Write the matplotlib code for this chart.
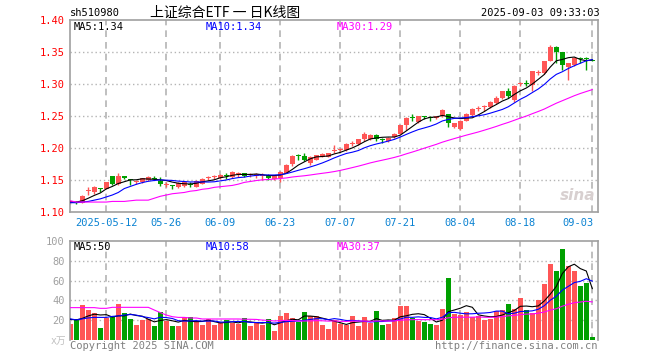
import matplotlib
matplotlib.use("Agg")
import matplotlib.pyplot as plt
import numpy as np
import pandas as pd

# -----------------------------
# Data (sh510980)
# -----------------------------
opens = [1.115, 1.116, 1.115, 1.133, 1.131, 1.137, 1.137, 1.156, 1.144, 1.156,
         1.151, 1.147, 1.148, 1.150, 1.153, 1.149, 1.142, 1.142, 1.140, 1.141,
         1.144, 1.140, 1.145, 1.153, 1.155, 1.153, 1.158, 1.155, 1.160, 1.161,
         1.158, 1.157, 1.157, 1.159, 1.152, 1.153, 1.162, 1.175, 1.189, 1.188,
         1.177, 1.182, 1.187, 1.187, 1.196, 1.198, 1.197, 1.207, 1.207, 1.214,
         1.215, 1.221, 1.214, 1.212, 1.217, 1.223, 1.236, 1.248, 1.241, 1.250,
         1.249, 1.248, 1.251, 1.253, 1.234, 1.230, 1.243, 1.252, 1.262, 1.264,
         1.265, 1.271, 1.278, 1.289, 1.275, 1.300, 1.302, 1.299, 1.318, 1.317,
         1.337, 1.359, 1.350, 1.327, 1.330, 1.341, 1.341, 1.338]
highs = [1.119, 1.118, 1.127, 1.139, 1.141, 1.138, 1.148, 1.157, 1.161, 1.157,
         1.152, 1.150, 1.154, 1.157, 1.156, 1.155, 1.147, 1.143, 1.147, 1.149,
         1.147, 1.150, 1.153, 1.156, 1.158, 1.160, 1.161, 1.164, 1.163, 1.162,
         1.161, 1.162, 1.161, 1.160, 1.157, 1.165, 1.175, 1.189, 1.191, 1.193,
         1.188, 1.190, 1.192, 1.193, 1.205, 1.201, 1.208, 1.211, 1.215, 1.226,
         1.222, 1.222, 1.216, 1.217, 1.224, 1.237, 1.249, 1.253, 1.251, 1.251,
         1.250, 1.251, 1.261, 1.254, 1.240, 1.244, 1.255, 1.263, 1.266, 1.267,
         1.274, 1.281, 1.290, 1.295, 1.299, 1.304, 1.307, 1.321, 1.323, 1.337,
         1.361, 1.360, 1.351, 1.334, 1.342, 1.342, 1.343, 1.339]
lows = [1.113, 1.113, 1.114, 1.127, 1.129, 1.132, 1.136, 1.143, 1.143, 1.152,
        1.143, 1.145, 1.146, 1.149, 1.151, 1.141, 1.140, 1.136, 1.138, 1.139,
        1.140, 1.139, 1.144, 1.150, 1.152, 1.152, 1.152, 1.154, 1.155, 1.155,
        1.155, 1.154, 1.151, 1.151, 1.151, 1.148, 1.161, 1.173, 1.182, 1.180,
        1.174, 1.181, 1.186, 1.186, 1.193, 1.196, 1.196, 1.203, 1.205, 1.212,
        1.213, 1.212, 1.209, 1.210, 1.216, 1.222, 1.229, 1.243, 1.239, 1.246,
        1.242, 1.246, 1.249, 1.234, 1.232, 1.228, 1.242, 1.251, 1.258, 1.258,
        1.263, 1.270, 1.277, 1.279, 1.273, 1.297, 1.297, 1.289, 1.314, 1.316,
        1.336, 1.333, 1.323, 1.306, 1.329, 1.333, 1.323, 1.336]
closes = [1.117, 1.115, 1.126, 1.134, 1.140, 1.136, 1.147, 1.145, 1.157, 1.154,
          1.150, 1.148, 1.153, 1.155, 1.152, 1.145, 1.143, 1.141, 1.146, 1.148,
          1.143, 1.149, 1.152, 1.154, 1.156, 1.159, 1.157, 1.163, 1.161, 1.156,
          1.159, 1.160, 1.158, 1.154, 1.156, 1.163, 1.174, 1.188, 1.188, 1.181,
          1.187, 1.189, 1.191, 1.192, 1.197, 1.199, 1.207, 1.208, 1.214, 1.223,
          1.221, 1.215, 1.213, 1.216, 1.223, 1.236, 1.248, 1.247, 1.250, 1.249,
          1.248, 1.250, 1.260, 1.240, 1.239, 1.243, 1.254, 1.262, 1.263, 1.265,
          1.273, 1.279, 1.289, 1.282, 1.298, 1.301, 1.301, 1.320, 1.319, 1.336,
          1.359, 1.350, 1.330, 1.333, 1.341, 1.340, 1.340, 1.337]
volumes = [16.4, 21.0, 35.5, 30.8, 27.4, 12.4, 22.7, 23.7, 36.5, 27.4,
           21.4, 15.4, 20.4, 21.0, 14.4, 28.4, 19.7, 14.4, 14.4, 23.4,
           23.4, 18.0, 15.4, 21.4, 15.4, 17.0, 20.7, 17.7, 16.7, 22.4,
           14.7, 17.0, 15.4, 21.4, 9.4, 24.7, 27.4, 22.7, 18.7, 28.4,
           24.4, 24.4, 15.4, 11.4, 20.4, 16.7, 15.7, 24.4, 14.4, 23.4,
           17.4, 29.4, 15.4, 16.4, 22.4, 34.4, 34.4, 22.7, 19.4, 18.0,
           16.4, 15.4, 31.4, 62.5, 26.4, 25.4, 28.1, 23.4, 24.7, 20.4,
           21.7, 29.4, 30.8, 36.5, 31.4, 42.5, 30.8, 27.4, 40.5, 56.5,
           76.6, 69.6, 91.6, 74.6, 69.6, 54.5, 57.5, 3.3]

# MA values at the start depend on days before the window
ma5_head = [1.116, 1.116, 1.118, 1.122]
ma10_head = [1.115, 1.115, 1.116, 1.117, 1.119, 1.121, 1.124, 1.127, 1.131]
ma30_head = [1.118, 1.116, 1.116, 1.116, 1.116, 1.116, 1.116, 1.117, 1.117, 1.117,
             1.118, 1.119, 1.119, 1.119, 1.122, 1.125, 1.127, 1.129, 1.130, 1.131,
             1.133, 1.134, 1.136, 1.137, 1.139, 1.140, 1.141, 1.142, 1.144]
vma5_head = [21.0, 20.5, 22.0, 24.5]
vma10_head = [21.5, 20.5, 21.5, 22.5, 23.0, 23.0, 23.0, 24.0, 24.5]
vma30_head = [32.8, 32.8, 32.8, 32.8, 32.8, 32.1, 32.1, 33.1, 33.1, 33.1,
              33.1, 33.1, 33.1, 33.1, 30.4, 27.8, 25.4, 23.7, 23.0, 23.0,
              22.4, 22.4, 21.4, 21.4, 21.4, 21.4, 21.4, 21.4, 21.4]

date_idx = [6, 16, 25, 35, 45, 55, 65, 75, 87]
date_labels = ["2025-05-12", "05-26", "06-09", "06-23", "07-07",
               "07-21", "08-04", "08-18", "09-03"]
price_ticks = [1.10, 1.15, 1.20, 1.25, 1.30, 1.35, 1.40]
vol_ticks = [20, 40, 60, 80, 100]

# -----------------------------
# Styling
# -----------------------------
RED = "#ff5656"
GREEN = "#00a000"
GRID = "#b4b4b4"
BORDER = "#a0a0a0"
W, H = 660, 360
LW = 0.8

plt.rcParams["font.family"] = ["DejaVu Sans Mono", "Noto Sans CJK SC"]
plt.rcParams["font.size"] = 7.5


def fx(px):
    return px / W


def fy(py):
    return 1 - py / H


def moving_avg(vals, n, head):
    s = pd.Series(vals).rolling(n).mean()
    s.iloc[:len(head)] = head
    return s.values


n = len(closes)
idx = np.arange(n)
o = np.array(opens)
c = np.array(closes)
up = c >= o
colors = np.where(up, RED, GREEN)

ma5 = moving_avg(closes, 5, ma5_head)
ma10 = moving_avg(closes, 10, ma10_head)
ma30 = moving_avg(closes, 30, ma30_head)
vma5 = moving_avg(volumes, 5, vma5_head)
vma10 = moving_avg(volumes, 10, vma10_head)
vma30 = moving_avg(volumes, 30, vma30_head)

fig = plt.figure(figsize=(6.6, 3.6), dpi=100)
fig.patch.set_facecolor("white")

x0, x1 = 70, 598
ax = fig.add_axes([fx(x0), fy(212.3), fx(x1 - x0), (212.3 - 20.3) / H])
axv = fig.add_axes([fx(x0), fy(340.3), fx(x1 - x0), (340.3 - 240.7) / H])

xlim = (-0.05, n - 0.05)

# -----------------------------
# Price panel
# -----------------------------
for i in date_idx:
    ax.axvline(i, color=GRID, lw=1.2, ls=(0, (4, 3)), zorder=0)
for p in price_ticks[1:-1]:
    ax.axhline(p, color=GRID, lw=1.0, ls=(0, (1, 2)), zorder=0)

ax.vlines(idx, lows, highs, colors=colors, lw=1.0, zorder=2)
body_h = np.maximum(np.abs(c - o), 0.0016)
ax.bar(idx, body_h, bottom=np.minimum(o, c), width=0.8, color=colors, lw=0, zorder=3)

ax.plot(idx, ma5, color="black", lw=LW, zorder=4)
ax.plot(idx, ma10, color="#0000ff", lw=LW, zorder=4)
ax.plot(idx, ma30, color="#ff00ff", lw=LW, zorder=4)

ax.set_xlim(*xlim)
ax.set_ylim(1.10, 1.40)
ax.set_yticks(price_ticks)
ax.set_yticklabels([f"{p:.2f}" for p in price_ticks])
ax.tick_params(axis="y", length=0, pad=4, labelcolor="#ff0000", labelsize=7.5)
ax.set_xticks([])
for side in ["left", "right", "top", "bottom"]:
    ax.spines[side].set_color(BORDER)
    ax.spines[side].set_linewidth(1.2)

for i, lab in zip(date_idx, date_labels):
    ha = "right" if i == n - 1 else "center"
    xi = i + 0.3 if i == n - 1 else i
    ax.text(xi, -0.055, lab, transform=ax.get_xaxis_transform(), ha=ha, va="center",
            color="#0a82d2", fontsize=7.5)

ax.text(0.006, 0.965, "MA5:1.34", transform=ax.transAxes, color="black", va="center", fontsize=7.5)
ax.text(0.257, 0.965, "MA10:1.34", transform=ax.transAxes, color="#0000ff", va="center", fontsize=7.5)
ax.text(0.505, 0.965, "MA30:1.29", transform=ax.transAxes, color="#ff00ff", va="center", fontsize=7.5)
ax.text(0.995, 0.09, "sina", transform=ax.transAxes, color="#d8d0d0", ha="right", va="center",
        fontsize=11, style="italic", fontweight="bold", family="DejaVu Sans")

# -----------------------------
# Volume panel
# -----------------------------
for i in date_idx:
    axv.axvline(i, color=GRID, lw=1.2, ls=(0, (4, 3)), zorder=0)
for v in vol_ticks[:-1]:
    axv.axhline(v, color=GRID, lw=1.0, ls=(0, (1, 2)), zorder=0)

axv.bar(idx, volumes, width=0.85, color=colors, lw=0, zorder=2)
axv.plot(idx, vma5, color="black", lw=LW, zorder=3)
axv.plot(idx, vma10, color="#0000ff", lw=LW, zorder=3)
axv.plot(idx, vma30, color="#ff00ff", lw=LW, zorder=3)

axv.set_xlim(*xlim)
axv.set_ylim(0, 100)
axv.set_yticks(vol_ticks)
axv.set_yticklabels([str(v) for v in vol_ticks])
axv.tick_params(axis="y", length=0, pad=4, labelcolor="#a0a0a0", labelsize=7.5)
axv.set_xticks([])
for side in ["left", "right", "top"]:
    axv.spines[side].set_color(BORDER)
    axv.spines[side].set_linewidth(1.2)
axv.spines["bottom"].set_visible(False)

axv.text(0.006, 0.935, "MA5:50", transform=axv.transAxes, color="black", va="center", fontsize=7.5)
axv.text(0.257, 0.935, "MA10:58", transform=axv.transAxes, color="#0000ff", va="center", fontsize=7.5)
axv.text(0.505, 0.935, "MA30:37", transform=axv.transAxes, color="#ff00ff", va="center", fontsize=7.5)

# -----------------------------
# Header / footer texts
# -----------------------------
fig.text(fx(70), fy(13), "sh510980", ha="left", va="center", fontsize=7.5)
fig.text(fx(150), fy(13), "上证综合ETF 一 日K线图", ha="left", va="center", fontsize=10,
         family=["Noto Sans CJK SC", "DejaVu Sans"])
fig.text(fx(600), fy(13), "2025-09-03 09:33:03", ha="right", va="center", fontsize=7.5)
fig.text(fx(66), fy(341), "x万", ha="right", va="center", fontsize=7, color="#c0c0c0")
fig.text(fx(70), fy(346), "Copyright 2025 SINA.COM", ha="left", va="center", fontsize=7.5, color="#808080")
fig.text(fx(598), fy(346), "http://finance.sina.com.cn", ha="right", va="center", fontsize=7.5,
         color="#808080")

fig.savefig("out.png", dpi=100, facecolor="white")
